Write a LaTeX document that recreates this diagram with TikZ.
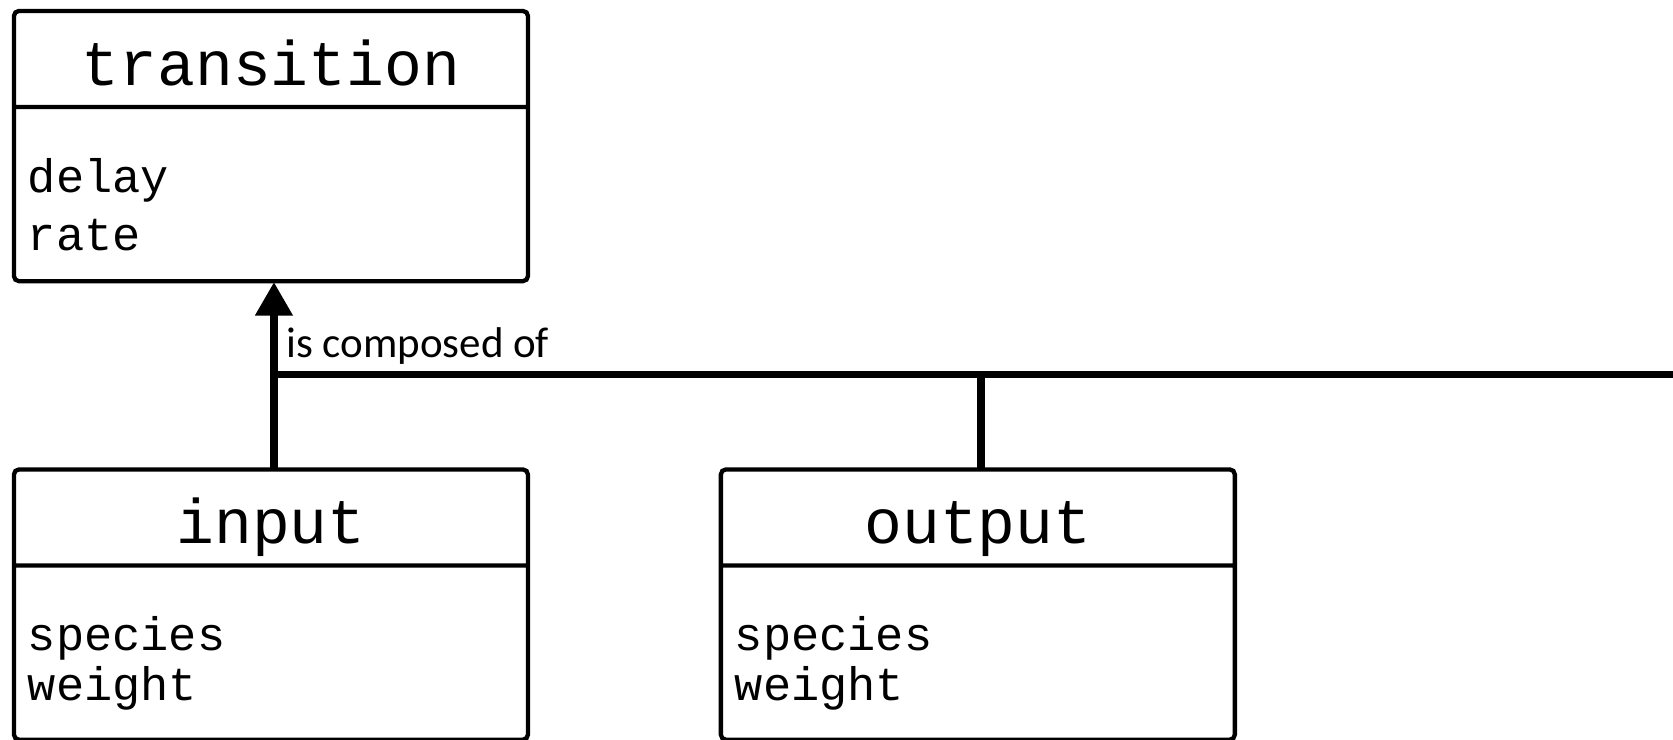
\documentclass[tikz,border=0pt]{standalone}
\usepackage{fontspec}
\setmonofont{Liberation Mono}
\newfontfamily\tagfont{Carlito}
\usetikzlibrary{matrix,shapes.multipart,arrows.meta}
\tikzset{>={Triangle[length=16.7pt,width=18pt]}}
\tikzstyle{entity} = [draw, rectangle split, rectangle split parts=2, rounded corners=2.5pt, inner sep=0pt, outer sep=0pt, line width=2.15pt, font=\ttfamily]
\tikzstyle{link} = [line width=3.7pt]
\tikzstyle{tag} = [font=\tagfont\fontsize{21.5}{25}\selectfont, inner sep=0pt]
\newcommand{\entityhead}[1]{\parbox[c][45.9pt][t]{257pt}{\centering\fontsize{31.5}{36}\selectfont\rule{0pt}{36pt}#1}}
\newcommand{\entitybody}[3]{\parbox[c][84.9pt][t]{257pt}{\fontsize{23.5}{#3}\selectfont\leftskip=7pt\rule{0pt}{41.5pt}#1\\#2}}

\begin{document}
\begin{tikzpicture}[auto]
\useasboundingbox (0,0) rectangle (836.5pt,-369.5pt);
\coordinate (rim) at (836.5pt,-369.5pt);

% Class boxes
\matrix (grid) [column sep=94.3pt, row sep=92pt, anchor=north west, inner sep=0pt, outer sep=0pt] at (5.9pt,-4.4pt)
{
	\node[entity](transition){\entityhead{transition}\nodepart{two}\entitybody{delay}{rate}{29.2pt}}; & \\

	\node[entity](input){\entityhead{input}\nodepart{two}\entitybody{species}{weight}{25pt}}; &
	\node[entity](output){\entityhead{output}\nodepart{two}\entitybody{species}{weight}{25pt}}; \\
};

% Composition connectors
\coordinate (hub) at ([xshift=1.5pt,yshift=-46.7pt]transition.south);
\draw[link,->] ([xshift=1.5pt]input.north) -- ([xshift=1.5pt,yshift=-0.5pt]transition.south);
\draw[link] (hub) -- (hub -| rim);
\draw[link] ([xshift=1.5pt]output.north) -- ([xshift=1.5pt]output.north |- hub);

\node[tag, anchor=base west] (composed) at ([shift={(6pt,8.6pt)}]hub) {is composed of};

\end{tikzpicture}
\end{document}
